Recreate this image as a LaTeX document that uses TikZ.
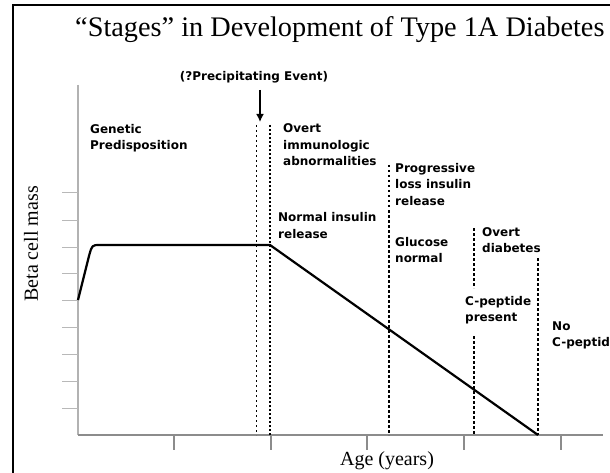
\documentclass[tikz,border=0pt]{standalone}
\usepackage{fontspec}
\setmainfont{Liberation Serif}
\newfontfamily\labfont{DejaVu Sans}
\usetikzlibrary{arrows.meta}

\begin{document}
\begin{tikzpicture}[
  x=1pt, y=-1pt,
  lab/.style={font=\labfont\bfseries\fontsize{12}{16.5}\selectfont, align=left,
              anchor=west, inner sep=0pt},
  axis/.style={draw=black!45, line width=1.3pt},
  ytick/.style={draw=black!28, line width=1pt},
  stage/.style={draw=black, line width=1.1pt, dash pattern=on 2.5pt off 2.5pt},
  mass/.style={draw=black, line width=2.2pt, line join=round},
  arr/.style={-{Latex[length=8pt,width=8pt]}, line width=2pt}
]
\useasboundingbox (0,0) rectangle (610,473);
\fill[white] (0,0) rectangle (610,473);
\draw[line width=2pt] (13,5) rectangle (680,520);

% ---------------- title ----------------
\node[font=\fontsize{28.3}{32}\selectfont, anchor=base west, inner sep=0pt] (title) at (75,37)
  {``Stages'' in Development of Type 1A Diabetes};

% ---------------- axes ----------------
\coordinate (origin) at (78,435);
\coordinate (ytop) at (78,85);
\coordinate (xend) at (603,435);
\draw[axis, draw=black!30] (ytop) -- (origin);
\draw[axis] (origin) -- (xend);
\foreach \yy in {193,220,247,273,300,327,354,381,408}
  \draw[ytick] (62,\yy) -- (78,\yy);
\foreach \xx in {174,271,367,464,561}
  \draw[axis] (\xx,435) -- (\xx,450);

\node[font=\fontsize{20}{24}\selectfont, rotate=90] (ylab) at (31,244) {Beta cell mass};
\node[font=\fontsize{20}{24}\selectfont] (xlab) at (387,461) {Age (years)};

% ---------------- beta cell mass ----------------
\coordinate (rise) at (78,300);
\coordinate (onset) at (270,245);
\coordinate (loss) at (538,435);
\draw[mass] (rise) -- (89,256) .. controls (92,245) .. (100,245) -- (onset) -- (loss);

% ---------------- stage boundaries ----------------
\draw[stage, line width=0.8pt, dash pattern=on 2pt off 3pt] (256,125) -- (256,435);
\draw[stage, line width=1.5pt, dash pattern=on 2pt off 2pt] (270,125) -- (270,435);
\draw[stage] (389,165) -- (389,435);
\draw[stage] (474,228) -- (474,288);
\draw[stage] (474,336) -- (474,435);
\draw[stage] (538,258) -- (538,435);

% ---------------- precipitating event ----------------
\node[lab, anchor=center] (event) at (254,77) {(?Precipitating Event)};
\coordinate (evtop) at (260,90);
\coordinate (evfoot) at (260,122);
\draw[arr] (evtop) -- (evfoot);

% ---------------- stage labels ----------------
\node[lab] (genetic) at (90,138) {Genetic\\Predisposition};
\node[lab] (immuno) at (283,145) {Overt\\immunologic\\abnormalities};
\node[lab] (normal) at (278,225.5) {Normal insulin\\release};
\node[lab] (progress) at (395,184.5) {Progressive\\loss insulin\\release};
\node[lab] (glucose) at (395,250) {Glucose\\normal};
\node[lab] (overt) at (482,240) {Overt\\diabetes};
\node[lab] (present) at (465,310) {C-peptide\\present};
\node[lab] (nocpep) at (552,335.5) {No\\C-peptide};

\end{tikzpicture}
\end{document}
